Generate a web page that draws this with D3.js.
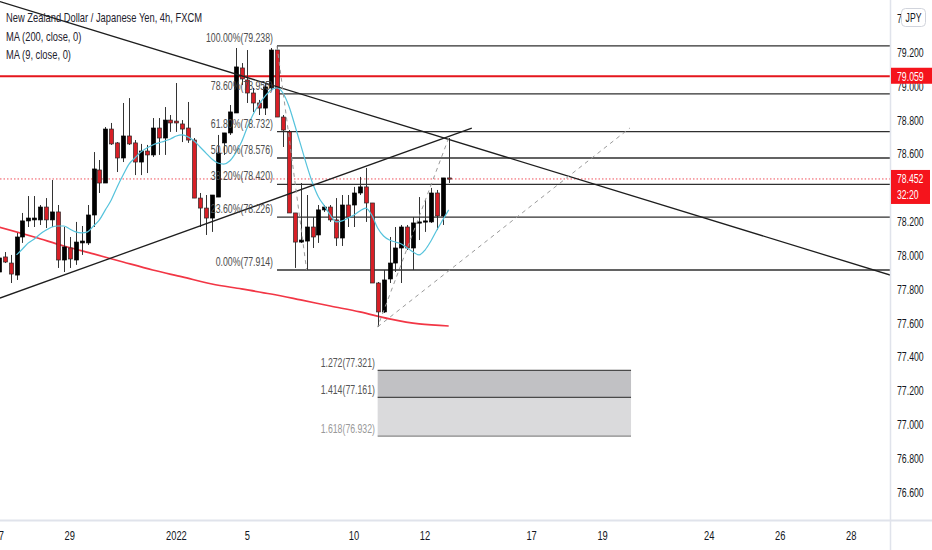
<!DOCTYPE html>
<html><head><meta charset="utf-8">
<script src="https://cdn.jsdelivr.net/npm/d3@7"></script>
<style>html,body{margin:0;padding:0;background:#fff;}svg{display:block;}</style>
</head><body>
<svg id="chart" width="932" height="550"></svg>
<script>
// ---------- DATA ----------
const firstBar = -1;
const opens  = [77.902,77.991,77.955,77.884,78.109,78.204,78.210,78.210,78.286,78.210,78.257,77.973,78.044,77.973,78.074,78.074,78.239,78.505,78.428,78.747,78.665,78.576,78.706,78.665,78.552,78.617,78.594,78.753,78.694,78.800,78.794,78.777,78.753,78.682,78.339,78.280,78.221,78.345,78.665,78.724,78.842,79.108,79.037,78.960,78.901,78.871,78.990,79.214,78.818,78.730,78.251,78.079,78.085,78.168,78.121,78.269,78.286,78.210,78.103,78.298,78.298,78.369,78.405,78.310,77.837,77.666,77.861,77.955,78.044,78.168,78.044,78.192,78.198,78.198,78.369,78.233,78.458];
const highs  = [78.003,78.020,78.003,78.133,78.251,78.351,78.351,78.298,78.339,78.446,78.298,78.168,78.109,78.198,78.174,78.298,78.611,78.564,78.759,78.783,78.670,78.901,78.930,78.682,78.659,78.653,78.812,78.812,78.877,78.830,79.019,78.800,78.907,78.694,78.369,78.357,78.357,78.712,78.724,78.889,79.226,79.137,79.214,78.990,78.919,79.019,79.226,79.238,78.830,78.741,78.251,78.428,78.357,78.227,78.298,78.298,78.298,78.339,78.357,78.357,78.405,78.464,78.517,78.310,77.843,77.914,78.109,78.168,78.180,78.180,78.227,78.345,78.328,78.399,78.387,78.458,78.694];
const lows   = [77.884,77.955,77.837,77.855,78.074,78.168,78.168,78.180,78.162,78.168,77.926,77.902,77.926,77.944,78.003,78.062,78.168,78.369,78.428,78.653,78.493,78.552,78.653,78.475,78.475,78.487,78.582,78.594,78.594,78.730,78.730,78.670,78.665,78.339,78.168,78.121,78.139,78.345,78.594,78.712,78.842,79.007,78.901,78.848,78.830,78.830,78.978,78.818,78.641,78.251,77.926,78.074,77.914,78.044,78.074,78.257,78.198,78.056,78.056,78.168,78.168,78.357,78.198,77.837,77.578,77.660,77.837,77.902,77.837,78.032,77.914,78.091,78.139,78.192,78.150,78.180,78.428];
const closes = [77.985,77.961,77.890,78.109,78.204,78.221,78.221,78.286,78.210,78.257,77.973,78.050,77.979,78.079,78.085,78.239,78.511,78.428,78.747,78.659,78.576,78.706,78.659,78.552,78.617,78.594,78.753,78.694,78.800,78.783,78.783,78.747,78.682,78.339,78.280,78.221,78.357,78.605,78.724,78.848,79.114,79.043,78.960,78.901,78.871,78.996,79.214,78.818,78.741,78.251,78.079,78.091,78.168,78.109,78.269,78.286,78.210,78.103,78.298,78.227,78.369,78.405,78.310,77.837,77.666,77.855,77.955,78.044,78.168,78.044,78.192,78.198,78.204,78.369,78.233,78.458,78.452];

// MA(9), one value per bar starting at bar 2
const ma9Start = 2;
const ma9 = [78.003,78.038,78.074,78.097,78.127,78.150,78.168,78.174,78.174,78.156,78.139,78.133,78.139,78.174,78.210,78.269,78.328,78.405,78.475,78.540,78.576,78.611,78.635,78.653,78.665,78.676,78.688,78.706,78.712,78.700,78.676,78.641,78.605,78.570,78.546,78.540,78.558,78.605,78.670,78.759,78.836,78.895,78.942,78.978,78.990,78.960,78.883,78.771,78.653,78.535,78.428,78.345,78.292,78.239,78.198,78.204,78.221,78.239,78.263,78.280,78.239,78.162,78.115,78.091,78.079,78.068,78.044,78.020,78.003,78.032,78.085,78.150,78.210,78.269];
// MA(200) sampled every 5 bars
const ma200Bars = [-1,5,10,15,20,25,30,35,40,45,50,55,60,65,70,75];
const ma200 = [78.168,78.109,78.056,78.009,77.961,77.914,77.873,77.831,77.802,77.772,77.737,77.701,77.666,77.625,77.595,77.583];

// Fibonacci retracement
const fibStartBar = 46;
const fibPrices = [79.238,78.955,78.732,78.576,78.420,78.226,77.914];
const fibLabels = ["100.00%(79.238)","78.60%(78.955)","61.80%(78.732)","50.00%(78.576)","38.20%(78.420)","23.60%(78.226)","0.00%(77.914)"];
// Trend-based fib extension
const extBars = [63, 105.8];
const extPrices = [77.321,77.161,76.932];
const extLabels = ["1.272(77.321)","1.414(77.161)","1.618(76.932)"];
const extLabelColors = ["#555","#555","#999"];

// trend lines: [bar, price] pairs
const trendDown = [[-0.8,79.500],[149.6,77.884]];
const trendUp   = [[-0.8,77.748],[78.9,78.753]];
const dashFib   = [[46,79.238],[51,77.914]];
const dashExtA  = [[75,78.694],[63,77.578]];
const dashExtB  = [[63,77.578],[105.6,78.753]];

const levelPrice = 79.059;
const lastPrice = 78.452;
const countdown = "32:20";

// 78.400 is hidden behind the last-price label in the reference
const yTicks = [79.4,79.2,79.0,78.8,78.6,78.2,78.0,77.8,77.6,77.4,77.2,77.0,76.8,76.6];
const timeLabels = ["27","29","2022","5","10","12","17","19","24","26","28"];
const timeBars   = [-1,11,29,41,59,71,89,101,119,131,143];

const legendLines = ["New Zealand Dollar / Japanese Yen, 4h, FXCM","MA (200, close, 0)","MA (9, close, 0)"];

// ---------- DRAW ----------
const W = 932, H = 550, plotR = 890, plotB = 520;
const svg = d3.select("#chart");
const x = d3.scaleLinear().domain([0, 150]).range([4.7, 4.7 + 150 * 5.92]);
const y = d3.scaleLinear().domain([76.6, 79.2]).range([492.3, 52.4]);

svg.append("defs").append("clipPath").attr("id","plot")
  .append("rect").attr("x",0).attr("y",0).attr("width",plotR).attr("height",plotB);
const g = svg.append("g").attr("clip-path","url(#plot)");

const FONT = "'Liberation Sans', Arial, sans-serif";
function txt(sel, str, tx, ty, opts) {
  opts = opts || {};
  return sel.append("text")
    .attr("transform", `translate(${tx},${ty}) scale(${opts.sx || 0.72},1)`)
    .attr("font-family", FONT)
    .attr("font-size", opts.size || 12)
    .attr("fill", opts.fill || "#131722")
    .attr("text-anchor", opts.anchor || "start")
    .text(str);
}

// extension boxes
const xe0 = x(extBars[0]), xe1 = x(extBars[1]);
g.append("rect").attr("x",xe0).attr("width",xe1-xe0)
  .attr("y",y(extPrices[0])).attr("height",y(extPrices[1])-y(extPrices[0])).attr("fill","#c1c1c4");
g.append("rect").attr("x",xe0).attr("width",xe1-xe0)
  .attr("y",y(extPrices[1])).attr("height",y(extPrices[2])-y(extPrices[1])).attr("fill","#dadadc");
extPrices.forEach((p,i)=>{
  g.append("line").attr("x1",xe0).attr("x2",xe1).attr("y1",y(p)).attr("y2",y(p))
    .attr("stroke", i===2 ? "#888" : "#4a4a4a").attr("stroke-width",1.3);
});

// fib retracement lines
fibPrices.forEach(p=>{
  g.append("line").attr("x1",x(fibStartBar)).attr("x2",plotR)
    .attr("y1",y(p)).attr("y2",y(p)).attr("stroke","#2f2f2f").attr("stroke-width",1.3);
});

// red level & dotted last price
g.append("line").attr("x1",0).attr("x2",plotR).attr("y1",y(levelPrice)).attr("y2",y(levelPrice))
  .attr("stroke","#e5161c").attr("stroke-width",2.2);
g.append("line").attr("x1",0).attr("x2",plotR).attr("y1",y(lastPrice)).attr("y2",y(lastPrice))
  .attr("stroke","#f0505a").attr("stroke-width",1).attr("stroke-dasharray","1.5,2");

// MA200
const line = d3.line().x(d=>x(d[0])).y(d=>y(d[1])).curve(d3.curveMonotoneX);
g.append("path").datum(ma200Bars.map((b,i)=>[b, ma200[i]])).attr("d",line)
  .attr("fill","none").attr("stroke","#f23645").attr("stroke-width",1.7);

// candles
const candles = opens.map((o,i)=>({bar:firstBar+i,o,h:highs[i],l:lows[i],c:closes[i]}));
const cg = g.append("g");
candles.forEach(d=>{
  const cx = Math.round(x(d.bar)) + 0.5;
  const up = d.c >= d.o;
  cg.append("line").attr("x1",cx).attr("x2",cx).attr("y1",y(d.h)).attr("y2",y(d.l))
    .attr("stroke","#333").attr("stroke-width",1);
  const top = y(Math.max(d.o,d.c)), bot = y(Math.min(d.o,d.c));
  cg.append("rect").attr("x",cx-2).attr("width",4)
    .attr("y",top).attr("height",Math.max(1.2, bot-top))
    .attr("fill", up ? "#000" : "#d71f26")
    .attr("stroke", up ? "#000" : "#2a2a2a").attr("stroke-width",0.7);
});

// MA9
g.append("path").datum(ma9.map((v,i)=>[ma9Start+i, v])).attr("d",line)
  .attr("fill","none").attr("stroke","#55c3dc").attr("stroke-width",1.2);

// trend lines
[trendDown, trendUp].forEach(t=>{
  g.append("line").attr("x1",x(t[0][0])).attr("y1",y(t[0][1])).attr("x2",x(t[1][0])).attr("y2",y(t[1][1]))
    .attr("stroke","#1e1e1e").attr("stroke-width",1.3);
});
[dashFib, dashExtA, dashExtB].forEach(t=>{
  g.append("line").attr("x1",x(t[0][0])).attr("y1",y(t[0][1])).attr("x2",x(t[1][0])).attr("y2",y(t[1][1]))
    .attr("stroke","#9a9a9a").attr("stroke-width",1).attr("stroke-dasharray","4,4");
});

// fib labels
fibPrices.forEach((p,i)=>{
  txt(svg, fibLabels[i], 273, y(p)-4, {anchor:"end", fill:"#4d4d4d", size:12.5, sx:0.7});
});
extPrices.forEach((p,i)=>{
  txt(svg, extLabels[i], 375, y(p)-3, {anchor:"end", fill:extLabelColors[i], size:12.5, sx:0.7});
});

// legend
legendLines.forEach((s,i)=>{
  txt(svg, s, 6, 22 + i*18.5, {size:12, sx:0.78, fill:"#1e222d"});
});

// axes borders
svg.append("line").attr("x1",0).attr("x2",W).attr("y1",plotB+0.5).attr("y2",plotB+0.5)
  .attr("stroke","#e0e3eb").attr("stroke-width",2);
svg.append("line").attr("x1",plotR+0.5).attr("x2",plotR+0.5).attr("y1",0).attr("y2",H)
  .attr("stroke","#e0e3eb").attr("stroke-width",1.5);

// price axis labels
yTicks.forEach(t=>{
  txt(svg, d3.format(".3f")(t), 897, y(t)+4.5, {size:12.5, sx:0.7});
});
// JPY button
svg.append("rect").attr("x",901.5).attr("y",8.5).attr("width",24).attr("height",18).attr("rx",4)
  .attr("fill","#fff").attr("stroke","#d1d4dc");
txt(svg, "JPY", 913.5, 22, {anchor:"middle", size:12, sx:0.72});

// price labels
svg.append("rect").attr("x",plotR+1).attr("y",y(levelPrice)-8.5).attr("width",W-plotR-1).attr("height",16).attr("fill","#f5141c");
txt(svg, d3.format(".3f")(levelPrice), 897, y(levelPrice)+4.5, {size:12.5, sx:0.7, fill:"#fff"});
svg.append("rect").attr("x",plotR+1).attr("y",y(lastPrice)-9).attr("width",W-plotR-3).attr("height",34).attr("fill","#f5141c");
txt(svg, d3.format(".3f")(lastPrice), 897, y(lastPrice)+4, {size:12, sx:0.72, fill:"#fff"});
txt(svg, countdown, 897, y(lastPrice)+20.5, {size:12, sx:0.72, fill:"#fff"});

// time axis labels
timeLabels.forEach((s,i)=>{
  txt(svg, s, x(timeBars[i]), 540, {anchor:"middle", size:13, sx:0.72});
});
</script>
</body></html>
